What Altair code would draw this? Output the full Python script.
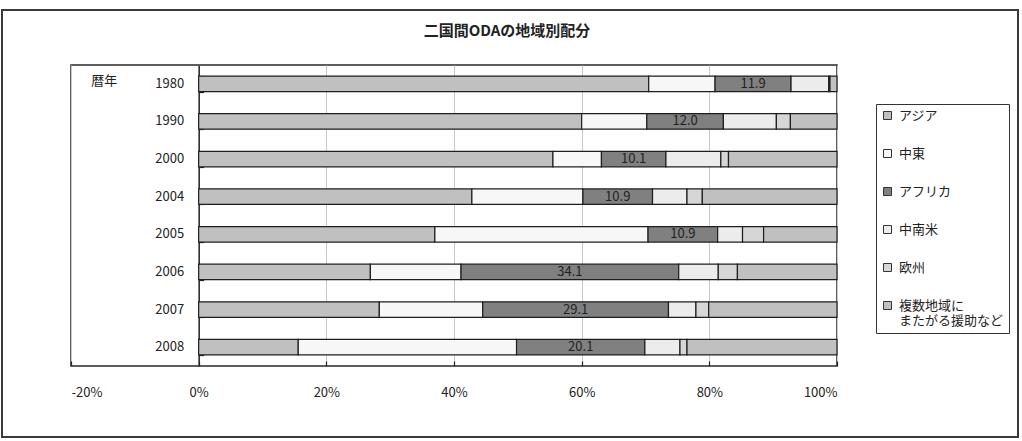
import altair as alt
import pandas as pd

years = ["1980", "1990", "2000", "2004", "2005", "2006", "2007", "2008"]
regions = ["アジア", "中東", "アフリカ", "中南米", "欧州", "複数地域にまたがる援助など"]
asia = [70.5, 60.0, 55.5, 42.8, 37.0, 26.9, 28.3, 15.6]
mideast = [10.4, 10.2, 7.6, 17.4, 33.4, 14.2, 16.2, 34.2]
africa = [11.9, 12.0, 10.1, 10.9, 10.9, 34.1, 29.1, 20.1]
latam = [5.9, 8.3, 8.6, 5.4, 3.9, 6.2, 4.3, 5.5]
europe = [0.2, 2.2, 1.2, 2.4, 3.3, 3.0, 2.0, 1.1]
multi = [1.1, 7.3, 17.0, 21.1, 11.5, 15.6, 20.1, 23.5]
colors = ["#c0c0c0", "#f7f7f7", "#808080", "#ececec", "#d6d6d6", "#c0c0c0"]
x_ticks = [-20, 0, 20, 40, 60, 80, 100]

series = [asia, mideast, africa, latam, europe, multi]
rows = []
for i, y in enumerate(years):
    start = 0.0
    for k, reg in enumerate(regions):
        v = series[k][i]
        rows.append({"year": y, "region": reg, "order": k, "value": v,
                     "start": start, "end": start + v, "mid": start + v / 2})
        start += v
df = pd.DataFrame(rows)
df_af = df[df["region"] == "アフリカ"]

W, H = 766, 301
FONT = "Noto Sans CJK JP"
y_off = W * 20 / 120

x_scale = alt.Scale(domain=[-20, 100], nice=False, zero=False)
y_scale = alt.Scale(domain=years, paddingInner=0.59, paddingOuter=0.295)

frame = alt.Chart(pd.DataFrame({"a": [0]})).mark_rect(
    fill="transparent", stroke="#3a3a3a", strokeWidth=2
).encode(
    x=alt.value(-69), x2=alt.value(947), y=alt.value(-55), y2=alt.value(372)
)

bars = alt.Chart(df).mark_bar(stroke="#1e1e1e", strokeWidth=1.2, opacity=1).encode(
    x=alt.X("start:Q", scale=x_scale,
            axis=alt.Axis(values=x_ticks, labelExpr="datum.value + '%'", grid=True,
                          gridColor="#c8c8c8", gridWidth=1, ticks=False, tickSize=0,
                          domain=False, labelPadding=20, labelFontSize=13,
                          labelColor="#222", title=None)),
    x2="end:Q",
    y=alt.Y("year:N", scale=y_scale, sort=years,
            axis=alt.Axis(orient="left", offset=-y_off, ticks=False, tickSize=0,
                          domain=True, domainColor="#222", domainWidth=1.5,
                          labelPadding=15, labelFontSize=13, labelColor="#222",
                          title="暦年", titleAngle=0, titleX=-95, titleY=15,
                          titleAlign="center", titleBaseline="middle",
                          titleFontSize=13, titleFontWeight="normal", titleColor="#222")),
    color=alt.Color("region:N", scale=alt.Scale(domain=regions, range=colors),
                    legend=alt.Legend(orient="none", legendX=805, legendY=39, title=None,
                                      padding=5, strokeColor="#333", fillColor="white",
                                      labelFontSize=13, labelColor="#222", labelLimit=300,
                                      symbolType="square", symbolSize=64,
                                      symbolStrokeColor="#333", symbolStrokeWidth=1,
                                      symbolOpacity=1, rowPadding=24, labelOffset=5,
                                      labelExpr="datum.label == '複数地域にまたがる援助など' ? ['複数地域に', 'またがる援助など'] : datum.label")),
    order=alt.Order("order:Q"),
)

labels = alt.Chart(df_af).mark_text(fontSize=13, color="#222").encode(
    x=alt.X("mid:Q", scale=x_scale,
            axis=alt.Axis(orient="top", offset=-H, values=x_ticks, labels=False,
                          domain=False, grid=False, ticks=True, tickSize=5,
                          tickColor="#222", tickWidth=1.2, title=None)),
    y=alt.Y("year:N", scale=y_scale, sort=years,
            axis=alt.Axis(orient="right", offset=-(W - y_off), labels=False,
                          domain=False, grid=False, ticks=True, tickSize=5,
                          tickColor="#222", tickWidth=1.2, tickBand="extent", title=None)),
    text=alt.Text("value:Q", format=".1f"),
)

chart = alt.layer(frame, bars, labels).resolve_axis(
    x="independent", y="independent"
).properties(
    width=W, height=H,
    padding={"left": 71, "top": 65, "right": 185, "bottom": 75},
    autosize=alt.AutoSizeParams(type="none"),
    title=alt.TitleParams("二国間ODAの地域別配分", fontSize=15, fontWeight="bold",
                          anchor="middle", dx=53, dy=30, offset=0, frame="group",
                          color="#222", font=FONT),
).configure(font=FONT).configure_view(stroke="#2a2a2a", strokeWidth=1.5)

chart.save("out.html", embed_options={"renderer": "svg", "actions": False})
